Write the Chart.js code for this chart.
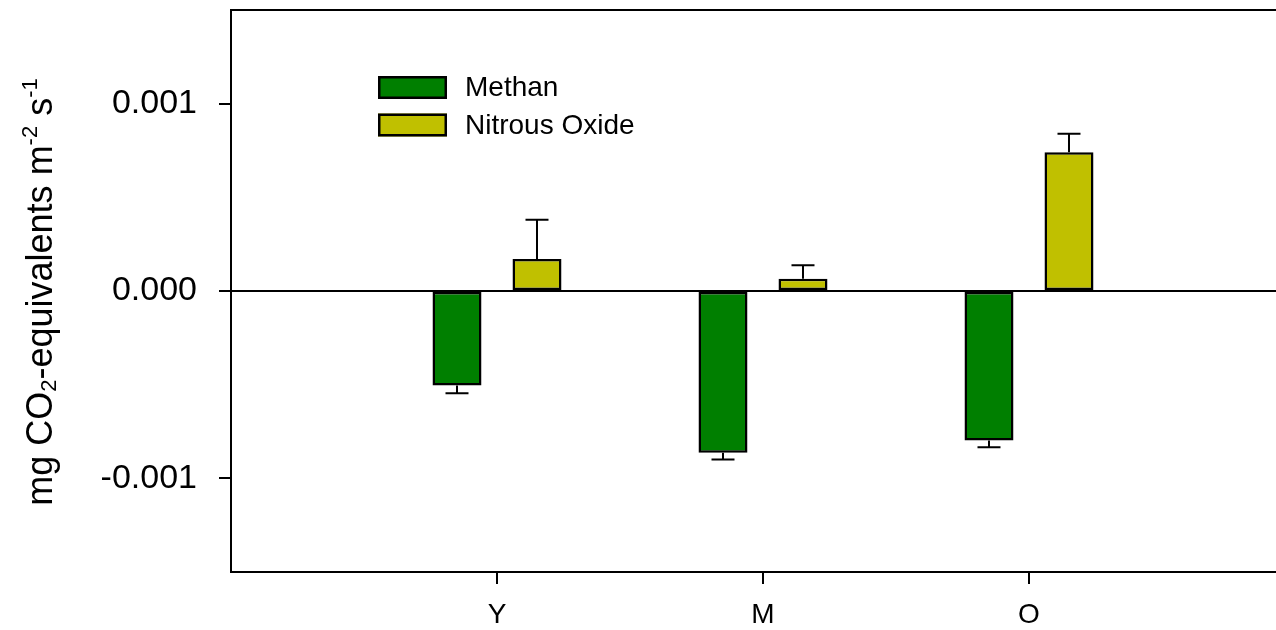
<!DOCTYPE html>
<html>
<head>
<meta charset="utf-8">
<script src="https://cdn.jsdelivr.net/npm/chart.js@4/dist/chart.umd.min.js"></script>
<style>
  html, body { margin: 0; padding: 0; background: #ffffff; }
  #wrap { width: 1276px; height: 630px; }
</style>
</head>
<body>
<div id="wrap"><canvas id="c" width="1276" height="630"></canvas></div>
<script>
// Site categories and the two greenhouse-gas series (mg CO2-equivalents m-2 s-1)
const categories = ['Y', 'M', 'O'];
const methan = [-0.000504, -0.000863, -0.000798];
const methanErr = [0.000042, 0.000037, 0.000036];
const nitrous = [0.000171, 0.000065, 0.00074];
const nitrousErr = [0.000209, 0.000072, 0.0001];
const yTickValues = [-0.001, 0, 0.001];
const seriesNames = ['Methan', 'Nitrous Oxide'];
const seriesColors = ['#007f00', '#c0c000'];

const FONT = '"Liberation Sans", Arial, Helvetica, sans-serif';

const toPoints = vals => vals.map((v, i) => ({ x: i + 1, y: v }));

// Frame: top edge of the plot box and the horizontal zero line
const framePlugin = {
  id: 'frame',
  beforeDatasetsDraw(chart) {
    const { ctx, chartArea: a, scales } = chart;
    const y0 = Math.round(scales.y.getPixelForValue(0));
    ctx.save();
    ctx.strokeStyle = '#000';
    ctx.lineWidth = 2;
    ctx.beginPath();
    ctx.moveTo(a.left, y0);
    ctx.lineTo(a.right, y0);
    ctx.moveTo(a.left, a.top);
    ctx.lineTo(a.right, a.top);
    ctx.stroke();
    ctx.restore();
  }
};

// One-sided error bars pointing away from zero
const errorBarPlugin = {
  id: 'errorBars',
  afterDatasetsDraw(chart) {
    const { ctx, scales } = chart;
    ctx.save();
    ctx.strokeStyle = '#000';
    ctx.lineWidth = 2;
    chart.data.datasets.forEach((ds, di) => {
      const meta = chart.getDatasetMeta(di);
      meta.data.forEach((bar, i) => {
        const v = ds.data[i].y;
        const e = ds.errors[i];
        const tip = scales.y.getPixelForValue(v + Math.sign(v) * e);
        ctx.beginPath();
        ctx.moveTo(bar.x, bar.y);
        ctx.lineTo(bar.x, tip);
        ctx.moveTo(bar.x - 11.5, tip);
        ctx.lineTo(bar.x + 11.5, tip);
        ctx.stroke();
      });
    });
    ctx.restore();
  }
};

// Legend box inside the plot area
const legendPlugin = {
  id: 'boxLegend',
  afterDraw(chart) {
    const { ctx } = chart;
    const x = 378, y = 76, w = 69, h = 23, step = 37.5;
    ctx.save();
    chart.data.datasets.forEach((ds, i) => {
      const top = y + i * step;
      ctx.fillStyle = ds.backgroundColor;
      ctx.fillRect(x, top, w, h);
      ctx.strokeStyle = '#000';
      ctx.lineWidth = 2.5;
      ctx.strokeRect(x + 1.25, top + 1.25, w - 2.5, h - 2.5);
      ctx.fillStyle = '#000';
      ctx.font = '28px ' + FONT;
      ctx.textBaseline = 'middle';
      ctx.textAlign = 'left';
      ctx.fillText(ds.label, 465, top + h / 2 + 1);
    });
    ctx.restore();
  }
};

// Rotated y-axis title with subscript / superscript parts
const yTitlePlugin = {
  id: 'yTitle',
  afterDraw(chart) {
    const { ctx } = chart;
    const big = '36px ' + FONT, small = '22px ' + FONT;
    const parts = [
      { t: 'mg CO', f: big, dy: 0 },
      { t: '2', f: small, dy: 4 },
      { t: '-equivalents m', f: big, dy: 0 },
      { t: '-2', f: small, dy: -15 },
      { t: ' s', f: big, dy: 0 },
      { t: '-1', f: small, dy: -15 }
    ];
    ctx.save();
    let total = 0;
    parts.forEach(p => { ctx.font = p.f; p.w = ctx.measureText(p.t).width; total += p.w; });
    ctx.translate(52, 292);
    ctx.rotate(-Math.PI / 2);
    ctx.fillStyle = '#000';
    ctx.textBaseline = 'alphabetic';
    ctx.textAlign = 'left';
    let cx = -total / 2;
    parts.forEach(p => {
      ctx.font = p.f;
      ctx.fillText(p.t, cx, p.dy);
      cx += p.w;
    });
    ctx.restore();
  }
};

new Chart(document.getElementById('c'), {
  type: 'bar',
  data: {
    datasets: [
      {
        label: seriesNames[0],
        data: toPoints(methan),
        errors: methanErr,
        backgroundColor: seriesColors[0],
        borderColor: '#000',
        borderWidth: 2.5,
        borderSkipped: false
      },
      {
        label: seriesNames[1],
        data: toPoints(nitrous),
        errors: nitrousErr,
        backgroundColor: seriesColors[1],
        borderColor: '#000',
        borderWidth: 2.5,
        borderSkipped: false
      }
    ]
  },
  options: {
    responsive: false,
    animation: false,
    events: [],
    categoryPercentage: 0.6015,
    barPercentage: 0.6125,
    layout: { padding: { top: 10, right: 0, bottom: 0, left: 0 } },
    plugins: { legend: { display: false }, tooltip: { enabled: false } },
    scales: {
      x: {
        type: 'linear',
        min: 0,
        max: 3.9286,
        offset: false,
        afterBuildTicks: s => { s.ticks = categories.map((c, i) => ({ value: i + 1 })); },
        afterFit: s => { s.height = 58; s.paddingLeft = 0; s.paddingRight = 0; },
        grid: { offset: false, drawOnChartArea: false, drawTicks: true, tickLength: 12, color: '#000', lineWidth: 2 },
        border: { display: true, color: '#000', width: 2 },
        ticks: {
          color: '#000',
          font: { family: FONT, size: 28 },
          padding: 14,
          maxRotation: 0,
          callback: v => categories[v - 1]
        }
      },
      y: {
        type: 'linear',
        min: -0.0015,
        max: 0.0015,
        afterBuildTicks: s => { s.ticks = yTickValues.map(v => ({ value: v })); },
        afterFit: s => { s.width = 231; s.paddingTop = 0; s.paddingBottom = 0; },
        grid: { drawOnChartArea: false, drawTicks: true, tickLength: 12, color: '#000', lineWidth: 2 },
        border: { display: true, color: '#000', width: 2 },
        ticks: {
          color: '#000',
          font: { family: FONT, size: 34 },
          padding: 22,
          callback: v => Number(v).toFixed(3)
        }
      }
    }
  },
  plugins: [framePlugin, errorBarPlugin, legendPlugin, yTitlePlugin]
});
</script>
</body>
</html>
